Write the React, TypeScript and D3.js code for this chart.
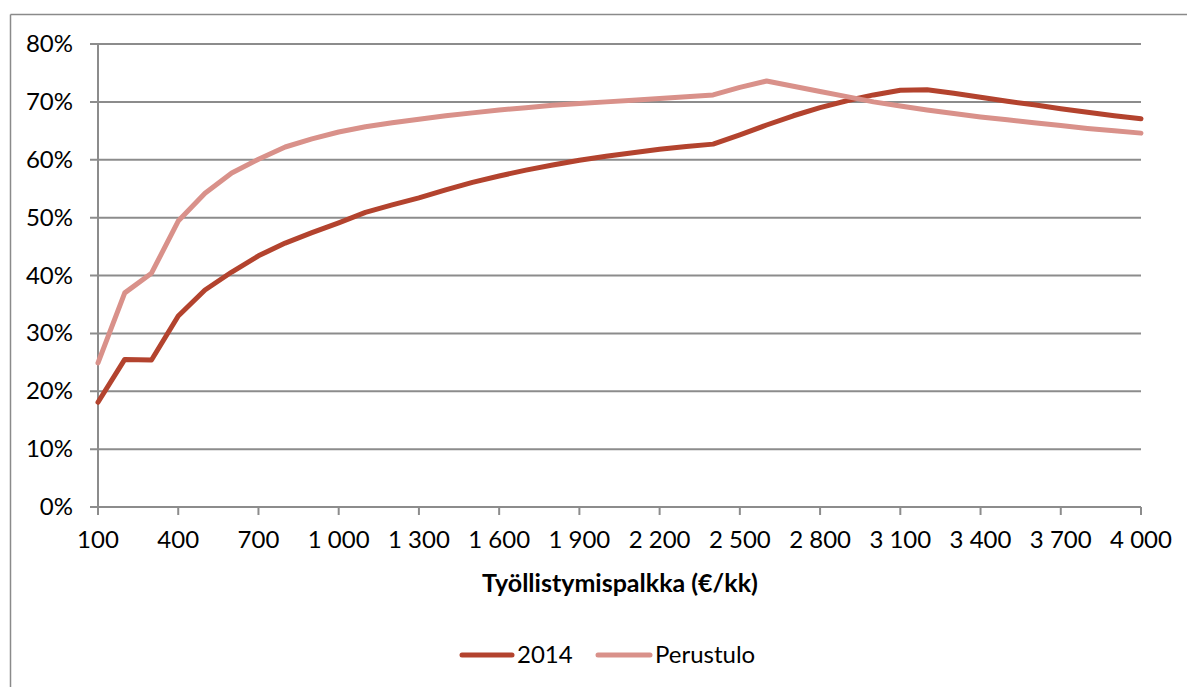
import React from "react";
import * as d3 from "d3";

const wages = [100, 200, 300, 400, 500, 600, 700, 800, 900, 1000, 1100, 1200, 1300, 1400, 1500, 1600, 1700, 1800, 1900, 2000,
  2100, 2200, 2300, 2400, 2500, 2600, 2700, 2800, 2900, 3000, 3100, 3200, 3300, 3400, 3500, 3600, 3700, 3800, 3900, 4000];

const series2014 = [18.1, 25.5, 25.4, 33.0, 37.5, 40.6, 43.4, 45.6, 47.4, 49.1, 50.9, 52.2, 53.4, 54.8, 56.1, 57.2, 58.2, 59.1, 59.9, 60.6,
  61.2, 61.8, 62.3, 62.7, 64.3, 66.0, 67.6, 69.0, 70.2, 71.2, 72.0, 72.1, 71.5, 70.8, 70.1, 69.5, 68.8, 68.2, 67.6, 67.1];

const seriesPerustulo = [24.9, 37.0, 40.4, 49.4, 54.2, 57.7, 60.1, 62.2, 63.6, 64.8, 65.7, 66.4, 67.0, 67.6, 68.1, 68.6, 69.0, 69.4, 69.7, 70.0,
  70.3, 70.6, 70.9, 71.2, 72.5, 73.6, 72.7, 71.8, 70.9, 70.0, 69.3, 68.6, 68.0, 67.4, 66.9, 66.4, 65.9, 65.4, 65.0, 64.6];

const xTickValues = [100, 400, 700, 1000, 1300, 1600, 1900, 2200, 2500, 2800, 3100, 3400, 3700, 4000];
const xTickLabels = ["100", "400", "700", "1 000", "1 300", "1 600", "1 900", "2 200", "2 500", "2 800", "3 100", "3 400", "3 700", "4 000"];
const yTicks = [0, 10, 20, 30, 40, 50, 60, 70, 80];

const seriesNames = ["2014", "Perustulo"];
const colors = ["#B3432E", "#D9918A"];

const FONT = "Lato, 'Open Sans', sans-serif";

export default function App() {
  const left = 98, right = 1141, top = 44, bottom = 507;
  const x = d3.scalePoint<number>().domain(wages).range([left, right]).padding(0);
  const y = d3.scaleLinear().domain([0, 80]).range([bottom, top]);
  const line = d3.line<number>().x((_, i) => x(wages[i]) as number).y((d) => y(d));
  const data = [series2014, seriesPerustulo];
  const grid = "#8C8C8C";

  return (
    <svg width={1187} height={687} style={{ position: "absolute", left: 0, top: 0, background: "#fff" }}>
      <rect x={0} y={0} width={1187} height={687} fill="#fff" />
      <line x1={10.5} y1={14.5} x2={1187} y2={14.5} stroke="#8A8A8A" strokeWidth={1.5} />
      <line x1={10.5} y1={14.5} x2={10.5} y2={687} stroke="#8A8A8A" strokeWidth={1.5} />
      {yTicks.map((t) => (
        <g key={t}>
          <line x1={left - 8} x2={right} y1={y(t)} y2={y(t)} stroke={grid} strokeWidth={2} />
          <text x={73} y={y(t) + 8} textAnchor="end" fontFamily={FONT} fontSize={24} fill="#000">{t}%</text>
        </g>
      ))}
      <line x1={left} x2={left} y1={top} y2={bottom + 8} stroke={grid} strokeWidth={2} />
      {xTickValues.map((v, i) => (
        <g key={v}>
          <line x1={x(v)} x2={x(v)} y1={bottom} y2={bottom + 8} stroke={grid} strokeWidth={2} />
          <text x={x(v)} y={548} textAnchor="middle" fontFamily={FONT} fontSize={24} fill="#000">{xTickLabels[i]}</text>
        </g>
      ))}
      {data.map((s, i) => (
        <path key={i} d={line(s) || ""} fill="none" stroke={colors[i]} strokeWidth={5} strokeLinejoin="round" strokeLinecap="round" />
      ))}
      <text x={620} y={592} textAnchor="middle" fontFamily={FONT} fontWeight="bold" fontSize={25} fill="#000">Työllistymispalkka (€/kk)</text>
      <g>
        <line x1={462} x2={512} y1={655} y2={655} stroke={colors[0]} strokeWidth={5} strokeLinecap="round" />
        <text x={517} y={663} fontFamily={FONT} fontSize={24} fill="#000">{seriesNames[0]}</text>
        <line x1={598} x2={650} y1={655} y2={655} stroke={colors[1]} strokeWidth={5} strokeLinecap="round" />
        <text x={655} y={663} fontFamily={FONT} fontSize={24} fill="#000">{seriesNames[1]}</text>
      </g>
    </svg>
  );
}
